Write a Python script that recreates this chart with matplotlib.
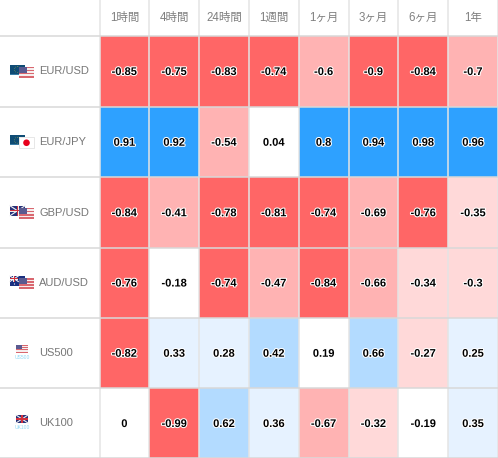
"""
通貨ペア 相関ヒートマップ
"""
import matplotlib
matplotlib.use('Agg')
import matplotlib.pyplot as plt
import matplotlib.patheffects as pe
from matplotlib.colors import BoundaryNorm, ListedColormap
from matplotlib.patches import Circle, Rectangle
import numpy as np

periods = ['1時間', '4時間', '24時間', '1週間', '1ヶ月', '3ヶ月', '6ヶ月', '1年']
symbols = ['EUR/USD', 'EUR/JPY', 'GBP/USD', 'AUD/USD', 'US500', 'UK100']
eur_usd = [-0.85, -0.75, -0.83, -0.74, -0.6, -0.9, -0.84, -0.7]
eur_jpy = [0.91, 0.92, -0.54, 0.04, 0.8, 0.94, 0.98, 0.96]
gbp_usd = [-0.84, -0.41, -0.78, -0.81, -0.74, -0.69, -0.76, -0.35]
aud_usd = [-0.76, -0.18, -0.74, -0.47, -0.84, -0.66, -0.34, -0.3]
us500 = [-0.82, 0.33, 0.28, 0.42, 0.19, 0.66, -0.27, 0.25]
uk100 = [0, -0.99, 0.62, 0.36, -0.67, -0.32, -0.19, 0.35]
flags = [('eu', 'us'), ('eu', 'jp'), ('gb', 'us'), ('au', 'us'), ('us',), ('gb',)]

values = np.array([eur_usd, eur_jpy, gbp_usd, aud_usd, us500, uk100])
levels = [-1, -0.7, -0.4, -0.2, 0.2, 0.4, 0.7, 1]
colors = ['#ff6666', '#ffb3b3', '#ffd9d9', '#ffffff', '#e6f2ff', '#b3dbff', '#2ea1ff']

W, H = 498, 458
x_edges = np.linspace(99.5, 498, 9)
y_edges = np.array([35.5, 106.5, 177, 247.5, 317.5, 388, 458])

plt.rcParams['font.family'] = ['Liberation Sans', 'Noto Sans CJK JP']
fig = plt.figure(figsize=(W / 100, H / 100), dpi=100)
ax = fig.add_axes([0, 0, 1, 1])
ax.set_xlim(0, W)
ax.set_ylim(H, 0)
ax.axis('off')

ax.pcolormesh(x_edges, y_edges, values, cmap=ListedColormap(colors),
              norm=BoundaryNorm(levels, len(colors)), zorder=1)

# 罫線
for x in x_edges:
    ax.plot([x, x], [0, H], color='#e4e4e4', lw=1.1, zorder=2)
for y in y_edges:
    ax.plot([0, W], [y, y], color='#d8d8d8', lw=1.1, zorder=2)


def draw_flag(code, x, y, w, h, z):
    def rect(x0, y0, ww, hh, c):
        ax.add_patch(Rectangle((x0, y0), ww, hh, color=c, lw=0, zorder=z))

    if code == 'us':
        for i in range(7):
            rect(x, y + i * h / 7, w, h / 7, '#d9676f' if i % 2 == 0 else '#f6eeee')
        rect(x, y, w * 0.5, h * 4 / 7, '#5a5a90')
    elif code == 'eu':
        rect(x, y, w, h, '#0f4c75')
        ax.add_patch(Circle((x + w / 2, y + h / 2), h * 0.3, fill=False, ec='#8a9a50',
                            lw=0.5, ls=':', zorder=z))
        rect(x, y + h - 1, w, 1, '#3a7ca5')
    elif code == 'jp':
        rect(x, y, w, h, '#ffffff')
        ax.add_patch(Rectangle((x, y), w, h, fill=False, ec='#dddddd', lw=0.5, zorder=z))
        ax.add_patch(Circle((x + w / 2, y + h / 2), h * 0.3, color='#e8001c', lw=0, zorder=z))
    elif code in ('gb', 'au'):
        uw = w if code == 'gb' else w * 0.55
        uh = h if code == 'gb' else h * 0.55
        if code == 'au':
            rect(x, y, w, h, '#1a2f80')
            for dx, dy in [(0.75, 0.3), (0.85, 0.6), (0.65, 0.75), (0.3, 0.8)]:
                ax.add_patch(Circle((x + w * dx, y + h * dy), 0.6, color='#ffffff', lw=0, zorder=z))
        else:
            rect(x, y, w, h, '#27337a')
        ax.plot([x, x + uw], [y, y + uh], color='#f0f0f0', lw=0.8, zorder=z)
        ax.plot([x, x + uw], [y + uh, y], color='#f0f0f0', lw=0.8, zorder=z)
        rect(x + uw / 2 - 1, y, 2, uh, '#f0f0f0')
        rect(x, y + uh / 2 - 1, uw, 2, '#f0f0f0')
        rect(x + uw / 2 - 0.6, y, 1.2, uh, '#d0303c')
        rect(x, y + uh / 2 - 0.6, uw, 1.2, '#d0303c')


# 見出し
for j, period in enumerate(periods):
    ax.text((x_edges[j] + x_edges[j + 1]) / 2, 18, period, fontsize=8.3, color='#808080',
            ha='center', va='center', zorder=3)

for i, symbol in enumerate(symbols):
    yc = (y_edges[i] + y_edges[i + 1]) / 2
    ax.text(39, yc + 0.5, symbol, fontsize=8, color='#777777', va='center', zorder=3)

    pair = flags[i]
    if len(pair) == 2:
        draw_flag(pair[0], 10, yc - 6.5, 15, 10, 3)
        draw_flag(pair[1], 19, yc - 4.5, 15, 11, 4)
    else:
        draw_flag(pair[0], 16, yc - 8, 12, 8, 3)
        ax.text(22, yc + 4.5, symbol, fontsize=3.6, color='#8fd8f5', ha='center',
                va='center', zorder=3)

    for j, v in enumerate(values[i]):
        ax.text((x_edges[j] + x_edges[j + 1]) / 2, yc + 1, f'{v:g}', fontsize=8, color='black',
                fontweight='bold', ha='center', va='center', zorder=5,
                path_effects=[pe.withStroke(linewidth=1.5, foreground='white')])

fig.savefig('out.png', dpi=100)
